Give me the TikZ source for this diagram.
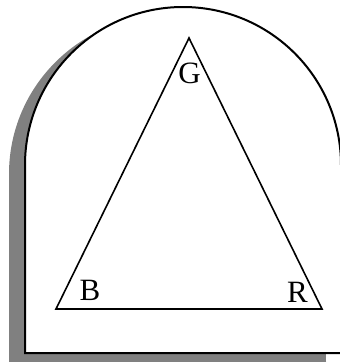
\documentclass[tikz,border=0pt]{standalone}
\usepackage{fontspec}
\setmainfont{Liberation Serif}
\tikzset{
  outline/.style={line width=2pt, draw=black, fill=white},
  tri/.style={line width=1.6pt, line join=miter},
  lbl/.style={inner sep=0pt, font=\fontsize{31}{34}\selectfont}
}
\definecolor{shadowgray}{HTML}{808080}
\begin{document}
\begin{tikzpicture}[x=1pt,y=-1pt]
\useasboundingbox (0,0) rectangle (340,362);
\clip (0,0) rectangle (340,362);
% shadow
\fill[shadowgray] (9,362) -- (9,174) arc[start angle=180, end angle=0, radius=158pt] -- (326,362) -- cycle;
% arch
\draw[outline] (25,353) -- (25,165) arc[start angle=180, end angle=0, radius=158pt] -- (341,353) -- cycle;
% triangle
\coordinate (g) at (189,38);
\coordinate (b) at (56,309);
\coordinate (r) at (322,309);
\draw[tri] (g) -- (b) -- (r) -- cycle;
\node[lbl] (G) at (189.5,73.5) {G};
\node[lbl] (B) at (90,290) {B};
\node[lbl] (R) at (297.5,292) {R};
\end{tikzpicture}
\end{document}
